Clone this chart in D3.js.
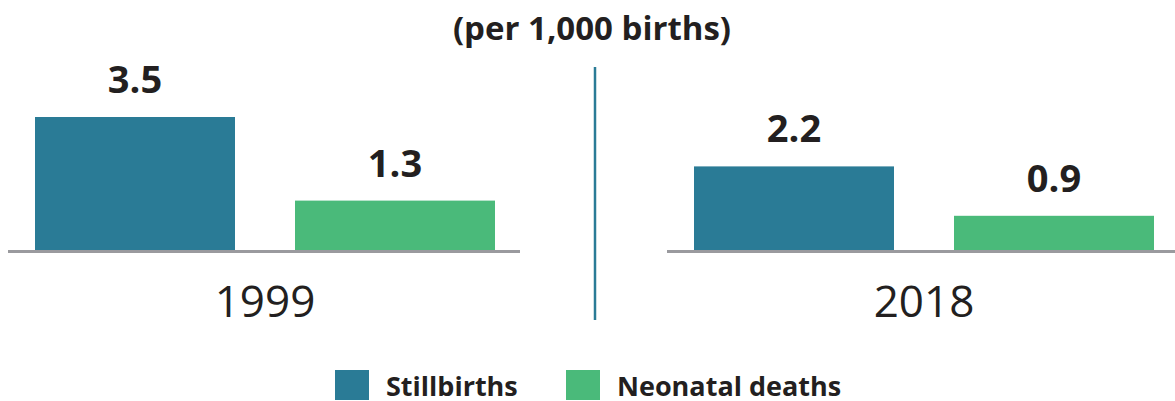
<!DOCTYPE html>
<html>
<head>
<meta charset="utf-8">
<script src="https://cdn.jsdelivr.net/npm/d3@7"></script>
<style>
  body { margin: 0; background: #fff; }
  svg { display: block; font-family: "Open Sans", "Noto Sans", sans-serif; }
</style>
</head>
<body>
<svg id="chart"></svg>
<script>
// data
const years = ["1999", "2018"];
const series = ["Stillbirths", "Neonatal deaths"];
const stillbirths = [3.5, 2.2];
const neonatalDeaths = [1.3, 0.9];
const subtitle = "(per 1,000 births)";

const width = 1175;
const height = 401;
const baseY = 250;
const colors = ["#2a7b96", "#4aba7a"];
const textColor = "#231f20";

const svg = d3.select("#chart").attr("width", width).attr("height", height);

// shared value scale
const y = d3.scaleLinear().domain([0, 3.5]).range([baseY, 117]);

const color = d3.scaleOrdinal().domain(series).range(colors);

// each year gets its own panel
const panels = [
    { year: years[0], values: [stillbirths[0], neonatalDeaths[0]], x0: 35, lineX: [8, 520] },
    { year: years[1], values: [stillbirths[1], neonatalDeaths[1]], x0: 694, lineX: [667, 1175] }
];

svg.append("text")
    .attr("x", 592)
    .attr("y", 40)
    .attr("text-anchor", "middle")
    .attr("font-size", 33)
    .attr("font-weight", 700)
    .attr("fill", textColor)
    .text(subtitle);

panels.forEach(p => {
    const x = d3.scaleBand()
        .domain(series)
        .range([p.x0, p.x0 + 460])
        .paddingInner(60 / 260)
        .paddingOuter(0);

    const g = svg.append("g");
    const data = series.map((s, i) => ({ s, v: p.values[i] }));

    g.selectAll(".bar")
        .data(data)
        .enter().append("rect")
        .attr("class", "bar")
        .attr("x", d => x(d.s))
        .attr("y", d => y(d.v))
        .attr("width", x.bandwidth())
        .attr("height", d => baseY - y(d.v))
        .attr("fill", d => color(d.s));

    g.selectAll(".val")
        .data(data)
        .enter().append("text")
        .attr("class", "val")
        .attr("x", d => x(d.s) + x.bandwidth() / 2)
        .attr("y", d => y(d.v) - 24)
        .attr("text-anchor", "middle")
        .attr("font-size", 38)
        .attr("font-weight", 700)
        .attr("fill", textColor)
        .text(d => d3.format(".1f")(d.v));

    g.append("line")
        .attr("x1", p.lineX[0])
        .attr("x2", p.lineX[1])
        .attr("y1", baseY + 1.5)
        .attr("y2", baseY + 1.5)
        .attr("stroke", "#9a9a9e")
        .attr("stroke-width", 3);

    g.append("text")
        .attr("x", p.x0 + 230)
        .attr("y", 317)
        .attr("text-anchor", "middle")
        .attr("font-size", 44)
        .attr("fill", textColor)
        .text(p.year);
});

// divider between years
svg.append("line")
    .attr("x1", 595).attr("x2", 595)
    .attr("y1", 67).attr("y2", 320)
    .attr("stroke", colors[0])
    .attr("stroke-width", 2.5);

// legend
const legendX = [335, 566];
const legend = svg.selectAll(".legend")
    .data(series)
    .enter().append("g")
    .attr("class", "legend")
    .attr("transform", (d, i) => `translate(${legendX[i]}, 370)`);

legend.append("rect")
    .attr("width", 34)
    .attr("height", 30)
    .attr("fill", d => color(d));

legend.append("text")
    .attr("x", 51)
    .attr("y", 26)
    .attr("font-size", 27)
    .attr("font-weight", 700)
    .attr("fill", textColor)
    .text(d => d);
</script>
</body>
</html>
